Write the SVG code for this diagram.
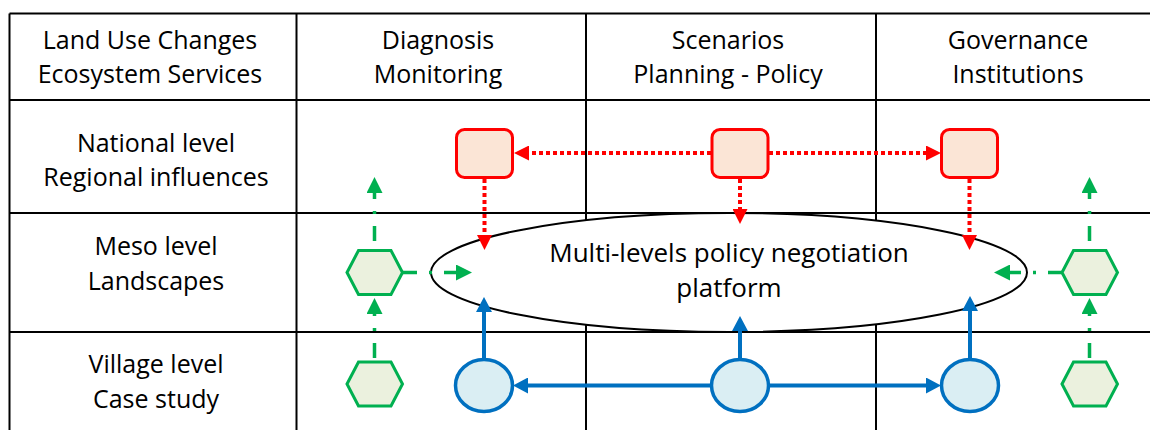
<svg xmlns="http://www.w3.org/2000/svg" width="1150" height="430" viewBox="0 0 1150 430">
<style>
text{font-family:"Open Sans","Liberation Sans",sans-serif;font-size:25px;fill:#000;text-anchor:middle}
.big{font-size:26px}
.grid{stroke:#000;stroke-width:2;fill:none}
.red{fill:#FBE5D6;stroke:#FF0000;stroke-width:3}
.hex{fill:#EBF1DE;stroke:#00B050;stroke-width:3}
.blue{fill:#DAEEF3;stroke:#0070C0;stroke-width:3.5}
.rl{stroke:#FF0000;stroke-width:4;stroke-dasharray:4 3;fill:none}
.gl{stroke:#00B050;stroke-width:3.5;stroke-dasharray:15 12 3 12;fill:none}
.bl{stroke:#0070C0;stroke-width:4;fill:none}
</style>
<defs>
<marker id="ar" markerUnits="userSpaceOnUse" markerWidth="15" markerHeight="15" refX="0" refY="7.5" orient="auto"><path d="M0,0 L15,7.5 L0,15 z" fill="#FF0000"/></marker>
<marker id="ab" markerUnits="userSpaceOnUse" markerWidth="16" markerHeight="16" refX="0" refY="8" orient="auto"><path d="M0,0 L15,8 L0,16 z" fill="#0070C0"/></marker>
<marker id="ag" markerUnits="userSpaceOnUse" markerWidth="17" markerHeight="16" refX="0" refY="8" orient="auto"><path d="M0,0 L16,8 L0,16 z" fill="#00B050"/></marker>
</defs>
<g id="table">
<path class="grid" d="M9.5,13.5 H1150 M9.5,13.5 V430 M296.5,13.5 V430 M586,13.5 V430 M876,13.5 V430 M9.5,100 H1150 M9.5,213 H1150 M9.5,332 H1150"/>
<text x="150" y="49">Land Use Changes</text>
<text x="150" y="83">Ecosystem Services</text>
<text x="438" y="49">Diagnosis</text>
<text x="438" y="83">Monitoring</text>
<text x="728" y="49">Scenarios</text>
<text x="728" y="83">Planning - Policy</text>
<text x="1018" y="49">Governance</text>
<text x="1018" y="83">Institutions</text>
<text x="156" y="152">National level</text>
<text x="156" y="186">Regional influences</text>
<text x="156" y="255">Meso level</text>
<text x="156" y="290">Landscapes</text>
<text x="156" y="373">Village level</text>
<text x="156" y="408">Case study</text>
</g>
<g id="platform">
<ellipse cx="729" cy="272.5" rx="298" ry="59.5" fill="#fff" stroke="#000" stroke-width="2"/>
<text class="big" x="729" y="262">Multi-levels policy negotiation</text>
<text class="big" x="729" y="297">platform</text>
</g>
<g id="connectors">
<path class="rl" d="M711,153 H529" marker-end="url(#ar)"/>
<path class="rl" d="M769,153 H926" marker-end="url(#ar)"/>
<path class="rl" d="M484.5,179 V235" marker-end="url(#ar)"/>
<path class="rl" d="M740,179 V209" marker-end="url(#ar)"/>
<path class="rl" d="M969.5,179 V235" marker-end="url(#ar)"/>
<path class="bl" d="M711,385.5 H528" marker-end="url(#ab)"/>
<path class="bl" d="M769,385.5 H926" marker-end="url(#ab)"/>
<path class="bl" d="M484,359 V312" marker-end="url(#ab)"/>
<path class="bl" d="M740,359 V331" marker-end="url(#ab)"/>
<path class="bl" d="M970,359 V311" marker-end="url(#ab)"/>
<path class="gl" d="M402,272.5 H456" marker-end="url(#ag)"/>
<path class="gl" d="M1063,272.5 H1010" marker-end="url(#ag)"/>
<path class="gl" style="stroke-dashoffset:38" d="M374.5,362 V314" marker-end="url(#ag)"/>
<path class="gl" style="stroke-dashoffset:33" d="M374.5,250 V193" marker-end="url(#ag)"/>
<path class="gl" style="stroke-dashoffset:38" d="M1089.5,362 V314" marker-end="url(#ag)"/>
<path class="gl" style="stroke-dashoffset:33" d="M1089.5,250 V193" marker-end="url(#ag)"/>
</g>
<g id="red-left"><rect class="red" x="456.5" y="129.5" width="56" height="48" rx="8"/></g>
<g id="red-mid"><rect class="red" x="712" y="129.5" width="56" height="48" rx="8"/></g>
<g id="red-right"><rect class="red" x="941.5" y="129.5" width="56" height="48" rx="8"/></g>
<g id="hex-meso-left"><polygon class="hex" points="347,272.5 358.5,250.5 391,250.5 402.5,272.5 391,294.5 358.5,294.5"/></g>
<g id="hex-village-left"><polygon class="hex" points="347,384 358.5,362 391,362 402.5,384 391,406 358.5,406"/></g>
<g id="hex-meso-right"><polygon class="hex" points="1062,272.5 1073.5,250.5 1106,250.5 1117.5,272.5 1106,294.5 1073.5,294.5"/></g>
<g id="hex-village-right"><polygon class="hex" points="1062,384 1073.5,362 1106,362 1117.5,384 1106,406 1073.5,406"/></g>
<g id="blue-left"><ellipse class="blue" cx="484" cy="385.5" rx="28.5" ry="26"/></g>
<g id="blue-mid"><ellipse class="blue" cx="740" cy="385.5" rx="28.5" ry="26"/></g>
<g id="blue-right"><ellipse class="blue" cx="970" cy="385.5" rx="28.5" ry="26"/></g>
</svg>
